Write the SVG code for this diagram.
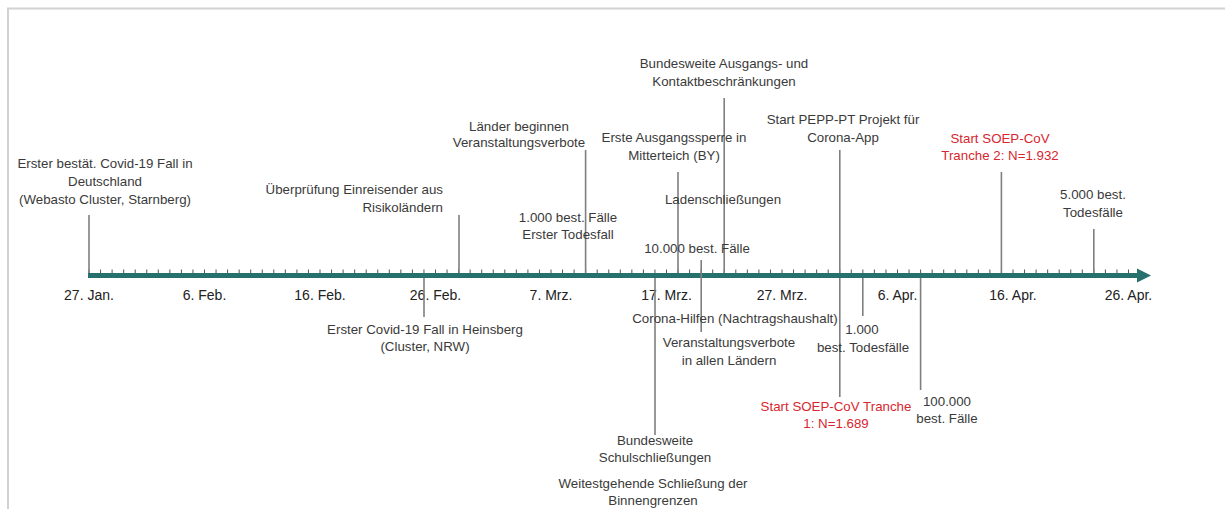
<svg xmlns="http://www.w3.org/2000/svg" width="1225" height="509" viewBox="0 0 1225 509">
<style>
text{font-family:"Liberation Sans",Arial,sans-serif;fill:#3a3a3a}
.ev{font-size:13.3px;text-anchor:middle}
.end{text-anchor:end}
.red{fill:#d7262e}
.ax{font-size:14px;text-anchor:middle;fill:#222}
.conn line{stroke:#7f7f7f;stroke-width:1.6}
</style>
<rect x="8" y="8.5" width="1240" height="520" fill="#fff" stroke="#d2d2d2" stroke-width="2"/>
<g id="axis">
<rect x="88" y="273" width="1052" height="5" fill="#26706d"/>
<polygon points="1137,268.5 1151,275.5 1137,282.5" fill="#26706d"/>
<line x1="88.5" y1="271.2" x2="1129.5" y2="271.2" stroke="#555" stroke-width="3.6" stroke-dasharray="1 10.55"/>
<text class="ax" x="89" y="300">27. Jan.</text>
<text class="ax" x="204.5" y="300">6. Feb.</text>
<text class="ax" x="320" y="300">16. Feb.</text>
<text class="ax" x="435.5" y="300">26. Feb.</text>
<text class="ax" x="551" y="300">7. Mrz.</text>
<text class="ax" x="666.5" y="300">17. Mrz.</text>
<text class="ax" x="782" y="300">27. Mrz.</text>
<text class="ax" x="897.5" y="300">6. Apr.</text>
<text class="ax" x="1013" y="300">16. Apr.</text>
<text class="ax" x="1128.5" y="300">26. Apr.</text>
</g>
<g id="connectors" class="conn">
<line x1="89" y1="215" x2="89" y2="273"/>
<line x1="459" y1="215" x2="459" y2="273"/>
<line x1="424" y1="278" x2="424" y2="317"/>
<line x1="585.6" y1="150" x2="585.6" y2="273"/>
<line x1="678" y1="172" x2="678" y2="273"/>
<line x1="724.2" y1="98" x2="724.2" y2="273"/>
<line x1="701.2" y1="260" x2="701.2" y2="332"/>
<line x1="655" y1="278" x2="655" y2="435"/>
<line x1="839.8" y1="150" x2="839.8" y2="273"/>
<line x1="839.8" y1="278" x2="839.8" y2="397"/>
<line x1="862.8" y1="278" x2="862.8" y2="316"/>
<line x1="920.6" y1="278" x2="920.6" y2="390"/>
<line x1="1001.4" y1="172" x2="1001.4" y2="273"/>
<line x1="1093.8" y1="229" x2="1093.8" y2="273"/>
</g>
<g id="n1"><text class="ev" x="105" y="168">Erster bestät. Covid-19 Fall in</text><text class="ev" x="105" y="186">Deutschland</text><text class="ev" x="105" y="204">(Webasto Cluster, Starnberg)</text></g>
<g id="n2"><text class="ev end" x="443" y="194">Überprüfung Einreisender aus</text><text class="ev end" x="443" y="212">Risikoländern</text></g>
<g id="n3"><text class="ev" x="425" y="334">Erster Covid-19 Fall in Heinsberg</text><text class="ev" x="425" y="351">(Cluster, NRW)</text></g>
<g id="n4"><text class="ev" x="519" y="131">Länder beginnen</text><text class="ev" x="519" y="147">Veranstaltungsverbote</text></g>
<g id="n5"><text class="ev" x="568" y="222">1.000 best. Fälle</text><text class="ev" x="568" y="239">Erster Todesfall</text></g>
<g id="n6"><text class="ev" x="674" y="142">Erste Ausgangssperre in</text><text class="ev" x="674" y="160">Mitterteich (BY)</text></g>
<g id="n7"><text class="ev" x="724" y="68">Bundesweite Ausgangs- und</text><text class="ev" x="724" y="86">Kontaktbeschränkungen</text></g>
<g id="n8"><text class="ev" x="723" y="204">Ladenschließungen</text></g>
<g id="n9"><text class="ev" x="697" y="253">10.000 best. Fälle</text></g>
<g id="n10"><text class="ev" x="735" y="323">Corona-Hilfen (Nachtragshaushalt)</text></g>
<g id="n11"><text class="ev" x="729" y="347">Veranstaltungsverbote</text><text class="ev" x="729" y="365">in allen Ländern</text></g>
<g id="n12"><text class="ev" x="655" y="445">Bundesweite</text><text class="ev" x="655" y="462">Schulschließungen</text></g>
<g id="n13"><text class="ev" x="653" y="488">Weitestgehende Schließung der</text><text class="ev" x="653" y="505">Binnengrenzen</text></g>
<g id="n14"><text class="ev" x="843" y="124">Start PEPP-PT Projekt für</text><text class="ev" x="843" y="142">Corona-App</text></g>
<g id="n15"><text class="ev red" x="836" y="411">Start SOEP-CoV Tranche</text><text class="ev red" x="836" y="428">1: N=1.689</text></g>
<g id="n16"><text class="ev" x="862" y="334">1.000</text><text class="ev" x="863" y="352">best. Todesfälle</text></g>
<g id="n17"><text class="ev" x="947" y="406">100.000</text><text class="ev" x="947" y="423">best. Fälle</text></g>
<g id="n18"><text class="ev red" x="1000" y="143">Start SOEP-CoV</text><text class="ev red" x="1000" y="160">Tranche 2: N=1.932</text></g>
<g id="n19"><text class="ev" x="1093" y="199">5.000 best.</text><text class="ev" x="1093" y="217">Todesfälle</text></g>
</svg>
